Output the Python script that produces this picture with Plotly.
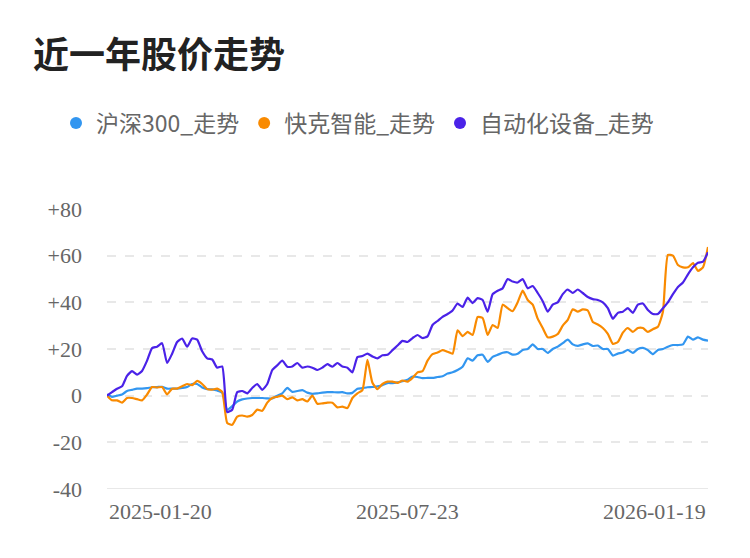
import plotly.graph_objects as go

title_text = "近一年股价走势"
series_names = ["沪深300_走势", "快克智能_走势", "自动化设备_走势"]
series_colors = ["#3296f0", "#f98a00", "#4a22e8"]

x_tick_labels = ["2025-01-20", "2025-07-23", "2026-01-19"]
y_tick_values = [-40, -20, 0, 20, 40, 60, 80]
y_tick_labels = ["-40", "-20", "0", "+20", "+40", "+60", "+80"]

hs300 = [
    0.5, -0.5, 0, 0.5, 2, 2.5, 3, 3, 3.2, 3.6,
    3.7, 3.8, 3, 3, 3, 3.3, 3.7, 5, 5, 3.5,
    2.8, 2.7, 2.2, 1.3, -6, -4.5, -2.5, -1.6, -1.2, -1,
    -1, -1, -1.2, -1.2, 0, 1, 3.3, 1.6, 2, 2.4,
    1.3, 0.8, 1, 1.3, 1.5, 1.5, 1.4, 1.5, 1, 1.2,
    3, 3.2, 3.6, 3.7, 4, 4.5, 5.4, 5.4, 5.7, 6.2,
    6.8, 8.2, 8, 7.5, 7.6, 7.6, 8, 8.3, 9.5, 10,
    11, 12.4, 16, 15, 17.3, 17.5, 14.5, 16.6, 17.5, 18.4,
    18.6, 17.6, 18, 19.6, 20, 22, 20, 20, 18.3, 20,
    21, 22.5, 24, 22, 21.3, 22, 22.4, 21.3, 21.5, 20,
    20, 17.2, 18, 18.5, 19.6, 18.3, 20, 20.5, 19.5, 17.8,
    19.6, 20, 21, 21.7, 21.7, 22, 25.3, 24, 25, 24,
    23.6,
]

kuaike = [
    0, -2, -2, -3, -1, -1, -1.5, -2, 0.5, 3.7,
    3.5, 3.7, 0.5, 3, 3, 4, 5, 4.5, 6.3, 5,
    2.8, 2.6, 3, 1.6, -11.7, -12.5, -9, -8.5, -9, -8.3,
    -6, -6.5, -3, -1, -0.5, 0, -1.5, -0.7, -2, -1.5,
    -2.5, 0, -3.5, -3.3, -3, -3, -5, -4.7, -5.3, -1,
    1, 2.4, 15.3, 5.5, 2.8, 5, 6, 6, 5.5, 6.5,
    6, 7.6, 10, 10.5, 15, 17.8, 18.5, 19.5, 18.8, 18,
    28, 25.5, 27.3, 26, 33.7, 33.3, 26, 30.3, 29, 39,
    37.5, 36.2, 40, 45, 41, 39, 33, 29, 25, 25.3,
    26.4, 30, 32.5, 37, 36, 37, 36.5, 31.6, 30.5, 29,
    26.5, 22.2, 23, 27, 29, 27.3, 29, 29, 27.3, 28.5,
    29.5, 36, 60.3, 60, 56, 55, 55, 56.8, 53.5, 55,
    63.7,
]

automation = [
    0, 1.5, 3, 4, 8.5, 10.5, 9, 10.6, 15, 20.4,
    21, 22.5, 14, 18, 23, 24.5, 21, 24.5, 24, 19,
    16, 15.5, 12, 12.5, -7, -6, 1.5, 2, 1, 3.3,
    5, 2.5, 5, 11, 13, 15, 12.4, 12.5, 14, 12,
    12.5, 12, 11, 12, 13.5, 12.4, 14, 12.5, 12, 10,
    16.5, 17, 18, 16.8, 16, 17.3, 17.5, 19.5, 21.5, 23.5,
    23, 24.7, 26, 24.7, 25.4, 30.3, 32, 33.8, 35, 36.5,
    39.5, 38, 42, 39.7, 41.8, 41, 36, 43.5, 45, 46,
    50, 48.9, 48.5, 50, 46, 47, 44, 40.5, 36, 39,
    40, 43.5, 45.5, 44, 45.5, 44, 42.3, 41.4, 41, 40,
    37.5, 33, 35.5, 36, 37.5, 35.5, 39, 39.5, 36.7, 35,
    35, 37.5, 40, 43.5, 46.6, 48.5, 52, 55, 57, 57.4,
    61.5,
]

all_series = [hs300, kuaike, automation]
n = len(hs300)
x_idx = list(range(n))
x_tick_pos = [0, (n - 1) // 2, n - 1]

fig = go.Figure()
for name, color, ys in zip(series_names, series_colors, all_series):
    fig.add_trace(go.Scatter(
        x=x_idx, y=ys, mode="lines", name=name, showlegend=False,
        line=dict(color=color, width=2.2, shape="spline", smoothing=0.5),
        hoverinfo="skip",
    ))
for name, color in zip(series_names, series_colors):
    fig.add_trace(go.Scatter(
        x=[None], y=[None], mode="markers", name=name,
        marker=dict(color=color, size=12, symbol="circle"),
    ))

tick_font = dict(family="Liberation Serif", size=22, color="#666666")

anchors = ["left", "center", "right"]
for pos, lab, anc in zip(x_tick_pos, x_tick_labels, anchors):
    fig.add_annotation(
        x=pos, y=0, xref="x", yref="paper", text=lab, showarrow=False,
        xanchor=anc, yanchor="top", yshift=-8, font=tick_font,
    )

fig.update_layout(
    width=750, height=558,
    margin=dict(l=99, r=50, t=201, b=77),
    paper_bgcolor="white", plot_bgcolor="white",
    title=dict(
        text=title_text, xref="container", yref="container",
        x=25 / 750, y=1 - 47 / 558, xanchor="left", yanchor="middle",
        font=dict(family="Noto Sans CJK SC", size=36, color="#222222", weight="bold"),
    ),
    legend=dict(
        orientation="h", xref="container", yref="container",
        x=48 / 750, y=1 - 115 / 558, xanchor="left", yanchor="middle",
        font=dict(family="Noto Sans CJK SC", size=23, color="#666666"),
        itemclick=False, itemdoubleclick=False, tracegroupgap=0,
    ),
    xaxis=dict(
        range=[0, n - 1], showgrid=False, zeroline=False,
        showticklabels=False, ticks="",
        showline=False,
    ),
    yaxis=dict(
        range=[-40, 80], tickvals=y_tick_values, ticktext=y_tick_labels,
        showgrid=True, gridcolor="#e8e8e8", gridwidth=2, griddash="dash",
        zeroline=False, showline=False, ticks="",
        tickfont=tick_font, ticklabelstandoff=24,
    ),
    shapes=[dict(type="line", xref="paper", yref="y", x0=0, x1=1, y0=-40, y1=-40,
                 line=dict(color="#e8e8e8", width=2))],
    showlegend=True,
)

fig.write_html("out.html")
